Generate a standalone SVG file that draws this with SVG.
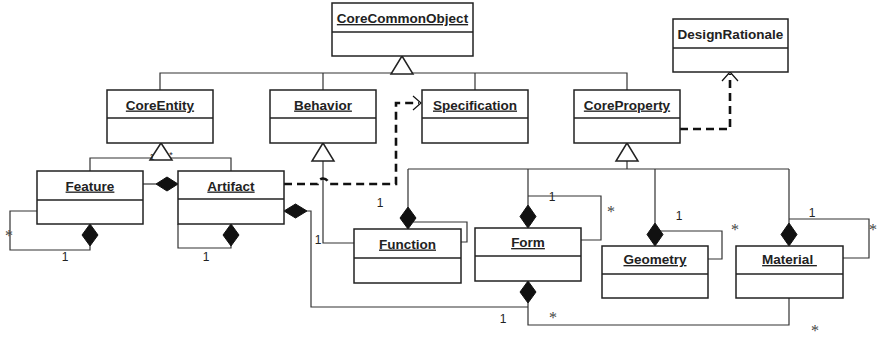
<svg xmlns="http://www.w3.org/2000/svg" width="879" height="340" viewBox="0 0 879 340">
<style>
.box{fill:#fff;stroke:#222;stroke-width:1.5}
.div{stroke:#222;stroke-width:1.5}
.t{font-family:"Liberation Sans",Arial,sans-serif;font-weight:bold;font-size:13.5px;fill:#222;text-anchor:middle;text-decoration:underline}
.tn{font-family:"Liberation Sans",Arial,sans-serif;font-weight:bold;font-size:13.5px;fill:#222;text-anchor:middle}
.ln{fill:none;stroke:#333;stroke-width:1.2}
.tri{fill:#fff;stroke:#222;stroke-width:1.5}
.dia{fill:#111;stroke:#111;stroke-width:1}
.dash{fill:none;stroke:#111;stroke-width:2.6;stroke-dasharray:8,5}
.arr{fill:none;stroke:#111;stroke-width:1.2}
.one{font-family:"Liberation Sans",Arial,sans-serif;font-size:12px;fill:#222;text-anchor:middle}
.ast{font-family:"Liberation Serif","Times New Roman",serif;font-size:16px;fill:#444;text-anchor:middle}
.sm{font-family:"Liberation Sans",Arial,sans-serif;font-size:9px;fill:#222;text-anchor:middle}
</style>

<g id="connectors">
  <path class="ln" d="M160,90 V73 H627 V90 M323,73 V90 M475,73 V90"/>
  <polygon class="tri" points="402,56 391,74 413,74"/>
  <path class="ln" d="M90,171 V158 H231 V171"/>
  <polygon class="tri" points="161,143 150,160 172,160"/>
  <text class="sm" x="152" y="160">1</text>
  <text class="sm" x="171" y="158">*</text>
  <path class="ln" d="M323,161 V243 H354"/>
  <polygon class="tri" points="323,143 312,161 334,161"/>
  <path class="ln" d="M627,161 V169 M408,169 H789"/>
  <polygon class="tri" points="627,143 616,161 638,161"/>

  <path class="ln" d="M143,184 H156"/>
  <polygon class="dia" points="156,184 167,177 178,184 167,191"/>
  <path class="ln" d="M37,211 H10 V250 H90 V246"/>
  <polygon class="dia" points="90,224 98,235 90,246 82,235"/>
  <path class="ln" d="M178,224 V248 H231 V246"/>
  <polygon class="dia" points="231,224 239,235 231,246 223,235"/>
  <path class="ln" d="M307,211 H311 V307 H528"/>
  <polygon class="dia" points="284,211 295.5,204 307,211 295.5,218"/>
  <path class="ln" d="M528,303 V325 H789 V298"/>
  <polygon class="dia" points="528,281 536,292 528,303 520,292"/>

  <path class="ln" d="M408,207 V169 M413,222 H467 V242 H461"/>
  <polygon class="dia" points="408,207 416,218 408,229 400,218"/>
  <path class="ln" d="M528,205 V169 M528,196 H601 V240 H581"/>
  <polygon class="dia" points="528,205 536,216.5 528,228 520,216.5"/>
  <path class="ln" d="M655,223 V169 M660,231 H722 V259 H708"/>
  <polygon class="dia" points="655,223 663,234.5 655,246 647,234.5"/>
  <path class="ln" d="M789,223 V169 M789,219 H869 V258 H843"/>
  <polygon class="dia" points="789,223 797,234.5 789,246 781,234.5"/>

  <path class="dash" d="M284,184 H317.5 A5.5,5.5 0 0 1 328.5,184 H396 V103 H419"/>
  <polyline class="arr" points="413,96 421,103 413,110"/>
  <path class="dash" d="M680,129 H730 V74"/>
  <polyline class="arr" points="722,81 730,72 738,81"/>

  <text class="ast" x="9" y="241">*</text>
  <text class="one" x="65" y="261">1</text>
  <text class="ast" x="201" y="220">*</text>
  <text class="one" x="206" y="261">1</text>
  <text class="one" x="380" y="207">1</text>
  <text class="one" x="318" y="244">1</text>
  <text class="one" x="552" y="201">1</text>
  <text class="ast" x="611" y="217">*</text>
  <text class="ast" x="486" y="276">*</text>
  <text class="one" x="679" y="220">1</text>
  <text class="ast" x="735" y="235">*</text>
  <text class="one" x="812" y="217">1</text>
  <text class="ast" x="873" y="235">*</text>
  <text class="one" x="503" y="323">1</text>
  <text class="ast" x="553" y="323">*</text>
  <text class="ast" x="815" y="336">*</text>
</g>

<g id="CoreCommonObject">
  <rect class="box" x="332" y="3" width="141" height="53"/>
  <line class="div" x1="332" y1="32" x2="473" y2="32"/>
  <text class="t" x="402.5" y="23">CoreCommonObject</text>
</g>
<g id="DesignRationale">
  <rect class="box" x="673" y="19" width="115" height="53"/>
  <line class="div" x1="673" y1="48" x2="788" y2="48"/>
  <text class="tn" x="730.5" y="39">DesignRationale</text>
</g>
<g id="CoreEntity">
  <rect class="box" x="107" y="90" width="106" height="53"/>
  <line class="div" x1="107" y1="118" x2="213" y2="118"/>
  <text class="t" x="160" y="109.5">CoreEntity</text>
</g>
<g id="Behavior">
  <rect class="box" x="270" y="90" width="106" height="53"/>
  <line class="div" x1="270" y1="118" x2="376" y2="118"/>
  <text class="t" x="323" y="109.5">Behavior</text>
</g>
<g id="Specification">
  <rect class="box" x="422" y="90" width="106" height="53"/>
  <line class="div" x1="422" y1="118" x2="528" y2="118"/>
  <text class="t" x="475" y="109.5">Specification</text>
</g>
<g id="CoreProperty">
  <rect class="box" x="574" y="90" width="106" height="53"/>
  <line class="div" x1="574" y1="118" x2="680" y2="118"/>
  <text class="t" x="627" y="109.5">CoreProperty</text>
</g>
<g id="Feature">
  <rect class="box" x="37" y="171" width="106" height="53"/>
  <line class="div" x1="37" y1="200" x2="143" y2="200"/>
  <text class="t" x="90" y="190.5">Feature</text>
</g>
<g id="Artifact">
  <rect class="box" x="178" y="171" width="106" height="53"/>
  <line class="div" x1="178" y1="199" x2="284" y2="199"/>
  <text class="t" x="231" y="190.5">Artifact</text>
</g>
<g id="Function">
  <rect class="box" x="354" y="229" width="107" height="54"/>
  <line class="div" x1="354" y1="258" x2="461" y2="258"/>
  <text class="t" x="407.5" y="248.5">Function</text>
</g>
<g id="Form">
  <rect class="box" x="475" y="228" width="106" height="53"/>
  <line class="div" x1="475" y1="256" x2="581" y2="256"/>
  <text class="t" x="528" y="247">Form</text>
</g>
<g id="Geometry">
  <rect class="box" x="602" y="246" width="106" height="52"/>
  <line class="div" x1="602" y1="274" x2="708" y2="274"/>
  <text class="t" x="655" y="264">Geometry</text>
</g>
<g id="Material">
  <rect class="box" x="736" y="246" width="107" height="52"/>
  <line class="div" x1="736" y1="274" x2="843" y2="274"/>
  <text class="t" x="789.5" y="264" xml:space="preserve">Material </text>
</g>
</svg>
